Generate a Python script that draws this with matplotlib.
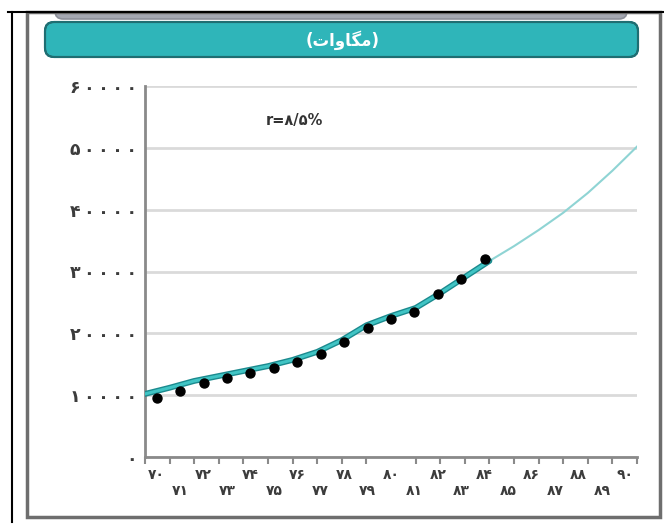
import numpy as np
import matplotlib.pyplot as plt
from matplotlib.patches import FancyBboxPatch, Rectangle
from matplotlib.colors import LinearSegmentedColormap

# data (MW, Iranian years 1370..1390)
years = list(range(70, 91))
dot_years = list(range(70, 85))
dot_values = [9600, 10700, 11900, 12800, 13600, 14400, 15400, 16700,
              18600, 20800, 22300, 23400, 26300, 28800, 32000]
line_years = list(range(70, 85))
line_values = [10200, 11200, 12300, 13100, 13900, 14700, 15700, 17000,
               18900, 21300, 22800, 24100, 26500, 29100, 31700]
proj_years = [84, 85, 86, 87, 88, 89, 90]
proj_values = [31700, 34100, 36700, 39500, 42700, 46300, 50200]
y_ticks = [0, 10000, 20000, 30000, 40000, 50000, 60000]

title = "(" + "\uFE95\uFE8D\uFEED\uFE8E\uFB95\uFEE3" + ")"   # (مگاوات) shaped, visual order
rate_text = "r=۸/۵%"

fa_digits = str.maketrans("0123456789", "۰۱۲۳۴۵۶۷۸۹")


def fa(n, sep=""):
    return sep.join(str(n).translate(fa_digits))


fig = plt.figure(figsize=(6.64, 5.28), dpi=100)

# background frame, banner (pixel coordinates)
bg = fig.add_axes([0, 0, 1, 1])
bg.axis('off')
bg.add_patch(FancyBboxPatch((55, 0), 572, 19, boxstyle='round,pad=0,rounding_size=8',
                            fc='#a4a7b1', ec='#8c8f99', lw=1.2))
bg.add_patch(Rectangle((0, -2), 664, 14, fc='white', ec='none'))
bg.plot([8, 664], [12, 12], color='black', lw=1.5)
bg.plot([12, 12], [12, 522], color='black', lw=1.5)
bg.add_patch(Rectangle((27, 12), 633, 505, fill=False, ec='#6e6e6e', lw=2.5))

banner = FancyBboxPatch((45, 22), 593, 35, boxstyle='round,pad=0,rounding_size=9',
                        fc='#2fb5b9', ec='#1f6e72', lw=1.5)
bg.add_patch(banner)
cmap = LinearSegmentedColormap.from_list('teal', ['#8fdfe2', '#3cc0c4', '#14a4a8'])
grad = np.linspace(0, 1, 64).reshape(-1, 1)
im = bg.imshow(grad, cmap=cmap, extent=(45, 638, 57, 22), origin='upper', aspect='auto')
im.set_clip_path(banner)
bg.add_patch(FancyBboxPatch((45, 22), 593, 35, boxstyle='round,pad=0,rounding_size=9',
                            fc='none', ec='#1f6e72', lw=1.5))
bg.text(343, 40, title, color='white', fontsize=12, fontweight='bold',
        ha='center', va='center')
bg.text(294, 121, rate_text, color='#333333', fontsize=10.5, fontweight='bold',
        ha='center', va='center')
bg.set_xlim(0, 664)
bg.set_ylim(528, 0)

# main chart
ax = fig.add_axes([145 / 664, 1 - 457 / 528, 492 / 664, 371 / 528])
ax.set_facecolor('none')
ax.set_xlim(-0.5, 20.5)
ax.set_ylim(0, 60000)

ax.set_yticks(y_ticks)
ax.set_yticklabels([fa(v, "\u2009") for v in y_ticks])
ax.yaxis.grid(True, color='#dadada', lw=2)
ax.set_axisbelow(True)


def tick_pos(y):
    # the line series sit on the tick grid, which spans the full axis
    return -0.5 + (np.asarray(y) - 70) * 21 / 20


ax.plot(tick_pos(proj_years), proj_values, color='#8fd4d4', lw=1.5, zorder=3)
ax.plot(tick_pos(line_years), line_values, color='#1b8a8e', lw=4.2, zorder=3,
        solid_capstyle='round')
ax.plot(tick_pos(line_years), line_values, color='#40c4c4', lw=2.2, zorder=3,
        solid_capstyle='round')
ax.scatter(np.array(dot_years) - 70, dot_values, s=42, color='black', zorder=5)

ax.set_xticks(range(len(years)))
ax.set_xticklabels([fa(y) if i % 2 == 0 else '\n' + fa(y) for i, y in enumerate(years)])
ax.set_xticks(np.linspace(-0.5, 20.5, 21), minor=True)
ax.tick_params(axis='x', which='major', length=0, pad=8, labelsize=10,
               labelcolor='#3c3c3c')
ax.tick_params(axis='x', which='minor', length=5, width=1.5, color='#8a8a8a',
               direction='out')
ax.tick_params(axis='y', length=0, pad=6, labelsize=12.5, labelcolor='#3c3c3c')
for lab in ax.get_xticklabels() + ax.get_yticklabels():
    lab.set_fontweight('bold')

for s in ['top', 'right']:
    ax.spines[s].set_visible(False)
for s in ['left', 'bottom']:
    ax.spines[s].set_color('#8a8a8a')
    ax.spines[s].set_linewidth(2)

fig.savefig('out.png', dpi=100)
